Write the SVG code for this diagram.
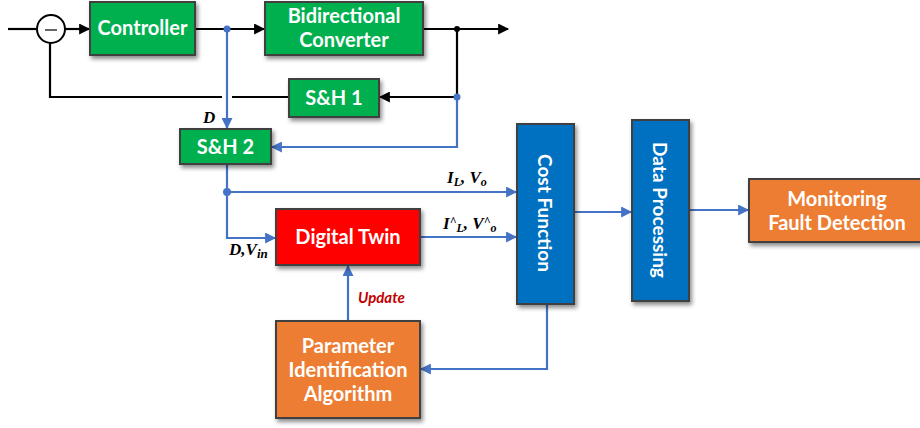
<svg xmlns="http://www.w3.org/2000/svg" width="920" height="428" viewBox="0 0 920 428">
<defs>
<filter id="sh" x="-10%" y="-10%" width="130%" height="140%">
<feDropShadow dx="2" dy="3" stdDeviation="2" flood-color="#000" flood-opacity="0.45"/>
</filter>
<marker id="au" viewBox="0 0 10 10" refX="9" refY="5" markerWidth="12" markerHeight="11" orient="auto-start-reverse" markerUnits="userSpaceOnUse">
<path d="M0,0 L10,5 L0,10 Z" fill="#4472C4"/>
</marker>
<marker id="ak" viewBox="0 0 10 10" refX="9" refY="5" markerWidth="12" markerHeight="11" orient="auto-start-reverse" markerUnits="userSpaceOnUse">
<path d="M0,0 L10,5 L0,10 Z" fill="#000"/>
</marker>
</defs>
<style>
.box{stroke:#404040;stroke-width:2;filter:url(#sh)}
.g{fill:#00B050}.r{fill:#FF0000}.b{fill:#0070C0}.o{fill:#ED7D31}
.t{font-family:Lato,"Open Sans",sans-serif;font-weight:bold;font-size:20px;fill:#fff;text-anchor:middle}
.v{font-size:19px}
.k{fill:none;stroke:#000;stroke-width:2.2}
.u{fill:none;stroke:#4472C4;stroke-width:2.2}
.m{font-family:"Liberation Serif",serif;font-weight:bold;font-style:italic;font-size:17px;fill:#000}
</style>
<g id="connectors">
<line class="k" x1="8" y1="29" x2="36" y2="29"/>
<line class="k" x1="65" y1="29" x2="89" y2="29" marker-end="url(#ak)"/>
<line class="k" x1="195" y1="29" x2="264" y2="29" marker-end="url(#ak)"/>
<line class="k" x1="423" y1="29" x2="508" y2="29" marker-end="url(#ak)"/>
<polyline class="k" points="457,29 457,97 380,97" marker-end="url(#ak)"/>
<polyline class="k" points="222,97 50,97 50,43"/>
<line class="k" x1="232" y1="97" x2="289" y2="97"/>
<circle cx="457" cy="29" r="3" fill="#000"/>
<line class="u" x1="227" y1="29" x2="227" y2="128" marker-end="url(#au)"/>
<circle cx="227" cy="29" r="3.5" fill="#4472C4"/>
<polyline class="u" points="457,97 457,147 272,147" marker-end="url(#au)"/>
<circle cx="457" cy="97" r="3.5" fill="#4472C4"/>
<polyline class="u" points="227,164 227,192 516,192" marker-end="url(#au)"/>
<circle cx="227" cy="192" r="4" fill="#4472C4"/>
<polyline class="u" points="227,192 227,238 275,238" marker-end="url(#au)"/>
<line class="u" x1="420" y1="237" x2="516" y2="237" marker-end="url(#au)"/>
<line class="u" x1="574" y1="212" x2="631" y2="212" marker-end="url(#au)"/>
<line class="u" x1="689" y1="210" x2="748" y2="210" marker-end="url(#au)"/>
<line class="u" x1="348" y1="320" x2="348" y2="266" marker-end="url(#au)"/>
<polyline class="u" points="547,304 547,369 421,369" marker-end="url(#au)"/>
<text class="m" x="203" y="123">D</text>
<text class="m" x="447" y="183">I<tspan font-size="12" dy="3">L</tspan><tspan dy="-3">, V</tspan><tspan font-size="12" dy="3">o</tspan></text>
<text class="m" x="443" y="229">I<tspan font-size="12" dy="-4">^</tspan><tspan font-size="12" dy="7">L</tspan><tspan dy="-3">, V</tspan><tspan font-size="12" dy="-4">^</tspan><tspan font-size="12" dy="7">o</tspan></text>
<text class="m" x="229" y="255">D,V<tspan font-size="13" dy="3">in</tspan></text>
<text x="358" y="303" font-family="Lato,'Open Sans',sans-serif" font-weight="bold" font-style="italic" font-size="15" fill="#C00000">Update</text>
</g>
<g id="sum">
<circle cx="51" cy="29" r="14" fill="#fff" stroke="#000" stroke-width="2"/>
<line x1="45" y1="30" x2="57" y2="30" stroke="#000" stroke-width="1.2"/>
</g>
<g id="controller">
<rect class="box g" x="90" y="2" width="105" height="53"/>
<text class="t" x="142.5" y="35">Controller</text>
</g>
<g id="converter">
<rect class="box g" x="265" y="2" width="158" height="53"/>
<text class="t" x="344" y="23">Bidirectional</text>
<text class="t" x="344" y="47">Converter</text>
</g>
<g id="sh1">
<rect class="box g" x="289" y="79" width="90" height="38"/>
<text class="t" x="334" y="105">S&amp;H 1</text>
</g>
<g id="sh2">
<rect class="box g" x="180" y="129" width="91" height="35"/>
<text class="t" x="225.5" y="153.5">S&amp;H 2</text>
</g>
<g id="twin">
<rect class="box r" x="276" y="209" width="144" height="56"/>
<text class="t" x="348" y="244">Digital Twin</text>
</g>
<g id="cost">
<rect class="box b" x="517" y="124" width="57" height="180"/>
<text class="t v" transform="translate(545,213) rotate(90)" y="7">Cost Function</text>
</g>
<g id="dataproc">
<rect class="box b" x="632" y="120" width="57" height="181"/>
<text class="t v" transform="translate(660,210) rotate(90)" y="7">Data Processing</text>
</g>
<g id="monitor">
<rect class="box o" x="749" y="179" width="172" height="63"/>
<text class="t" x="837" y="206">Monitoring</text>
<text class="t" x="837" y="230">Fault Detection</text>
</g>
<g id="param">
<rect class="box o" x="276" y="321" width="144" height="97"/>
<text class="t" x="348" y="353">Parameter</text>
<text class="t" x="348" y="377">Identification</text>
<text class="t" x="348" y="401">Algorithm</text>
</g>
</svg>
